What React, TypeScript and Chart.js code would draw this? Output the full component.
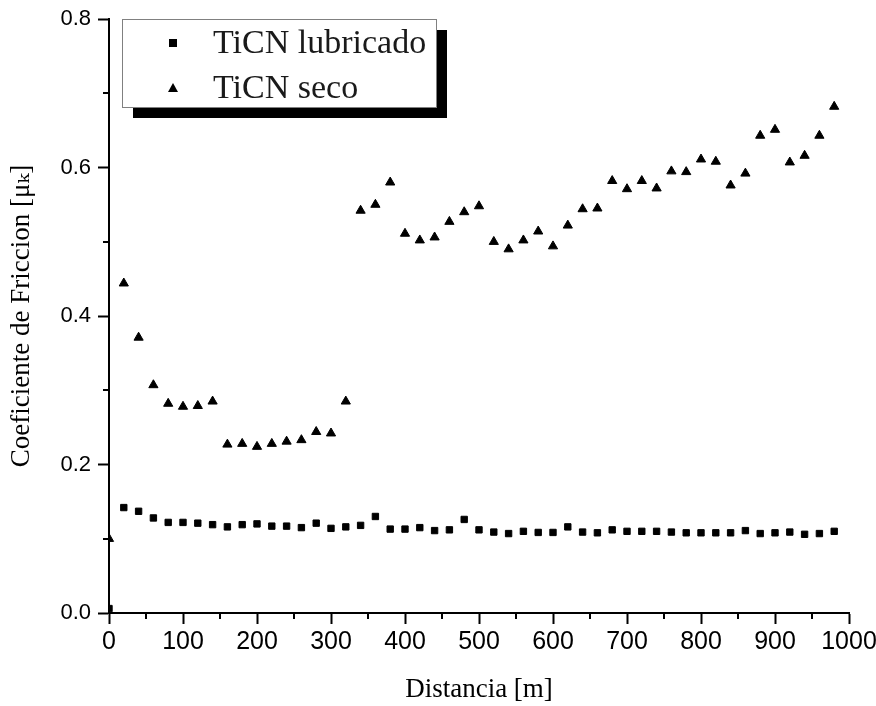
import React, { useEffect, useRef } from 'react';
import { Chart, registerables } from 'chart.js';

Chart.register(...registerables);

// ---- data ----
const distance = [
  0, 20, 40, 60, 80, 100, 120, 140, 160, 180,
  200, 220, 240, 260, 280, 300, 320, 340, 360, 380,
  400, 420, 440, 460, 480, 500, 520, 540, 560, 580,
  600, 620, 640, 660, 680, 700, 720, 740, 760, 780,
  800, 820, 840, 860, 880, 900, 920, 940, 960, 980,
];

const lubricado = [
  0.006, 0.142, 0.137, 0.128, 0.122, 0.122, 0.121, 0.119, 0.116, 0.119,
  0.120, 0.117, 0.117, 0.115, 0.121, 0.114, 0.116, 0.118, 0.130, 0.113,
  0.113, 0.115, 0.111, 0.112, 0.126, 0.112, 0.109, 0.107, 0.110, 0.1085,
  0.1085, 0.116, 0.109, 0.108, 0.112, 0.110, 0.110, 0.110, 0.109, 0.108,
  0.108, 0.108, 0.108, 0.111, 0.107, 0.108, 0.109, 0.106, 0.107, 0.110,
];

const seco = [
  0.100, 0.444, 0.371, 0.307, 0.282, 0.278, 0.279, 0.285, 0.227, 0.228,
  0.224, 0.228, 0.231, 0.233, 0.244, 0.242, 0.285, 0.542, 0.550, 0.580,
  0.511, 0.502, 0.506, 0.527, 0.540, 0.548, 0.500, 0.490, 0.502, 0.514,
  0.494, 0.522, 0.544, 0.545, 0.582, 0.571, 0.582, 0.572, 0.595, 0.594,
  0.611, 0.608, 0.576, 0.592, 0.643, 0.651, 0.607, 0.616, 0.643, 0.682,
];

const seriesLabels = ['TiCN lubricado', 'TiCN seco'];
const xTitle = 'Distancia [m]';
const yTitle = 'Coeficiente de Friccion [\u03bc\u2096]';
const xMinorTicks = [50, 150, 250, 350, 450, 550, 650, 750, 850, 950];
const yMinorTicks = [0.1, 0.3, 0.5, 0.7];

const SERIF = "'Liberation Serif', 'DejaVu Serif', serif";
const SANS = "'Liberation Sans', Arial, sans-serif";
const SANS_NARROW = "'Liberation Sans Narrow', 'Liberation Sans', Arial, sans-serif";

const minorTicksPlugin = {
  id: 'minorTicks',
  afterDraw(chart: any) {
    const { ctx, chartArea, scales } = chart;
    ctx.save();
    ctx.strokeStyle = '#000';
    ctx.lineWidth = 2;
    ctx.beginPath();
    xMinorTicks.forEach((v) => {
      const px = Math.round(scales.x.getPixelForValue(v));
      ctx.moveTo(px, chartArea.bottom);
      ctx.lineTo(px, chartArea.bottom + 6);
    });
    yMinorTicks.forEach((v) => {
      const py = Math.round(scales.y.getPixelForValue(v));
      ctx.moveTo(chartArea.left, py);
      ctx.lineTo(chartArea.left - 6, py);
    });
    ctx.stroke();
    ctx.restore();
  },
};

const boxLegendPlugin = {
  id: 'boxLegend',
  afterDraw(chart: any) {
    const { ctx, chartArea } = chart;
    const left = chartArea.left + 13;
    const top = chartArea.top;
    const w = 314;
    const h = 88;
    ctx.save();
    // shadow
    ctx.fillStyle = '#000';
    ctx.fillRect(left + 11, top + 11, w, h);
    // box
    ctx.fillStyle = '#fff';
    ctx.fillRect(left, top, w, h);
    ctx.strokeStyle = '#808080';
    ctx.lineWidth = 1;
    ctx.strokeRect(left + 0.5, top + 0.5, w, h);
    // entries
    const rows = [top + 24, top + 69];
    chart.data.datasets.forEach((ds: any, i: number) => {
      const cx = left + 51;
      const cy = rows[i];
      ctx.fillStyle = '#000';
      if (ds.pointStyle === 'rect') {
        ctx.fillRect(cx - 4, cy - 4, 8, 8);
      } else {
        ctx.beginPath();
        ctx.moveTo(cx, cy - 5);
        ctx.lineTo(cx + 5, cy + 4);
        ctx.lineTo(cx - 5, cy + 4);
        ctx.closePath();
        ctx.fill();
      }
      ctx.font = `34px ${SERIF}`;
      ctx.textBaseline = 'middle';
      ctx.textAlign = 'left';
      ctx.fillStyle = '#1a1a1a';
      ctx.fillText(ds.label, left + 91, cy + 1);
    });
    ctx.restore();
  },
};

export default function App() {
  const canvasRef = useRef<HTMLCanvasElement | null>(null);

  useEffect(() => {
    if (!canvasRef.current) return;
    const chart = new Chart(canvasRef.current, {
      type: 'scatter',
      data: {
        datasets: [
          {
            label: seriesLabels[0],
            data: distance.map((x, i) => ({ x, y: lubricado[i] })),
            pointStyle: 'rect',
            pointRadius: 4.5,
            backgroundColor: '#000',
            borderColor: '#000',
            borderWidth: 1,
          },
          {
            label: seriesLabels[1],
            data: distance.map((x, i) => ({ x, y: seco[i] })),
            pointStyle: 'triangle',
            pointRadius: 5.3,
            backgroundColor: '#000',
            borderColor: '#000',
            borderWidth: 1,
          },
        ],
      },
      options: {
        animation: false,
        responsive: true,
        maintainAspectRatio: false,
        layout: { padding: { left: 0, right: 27, top: 19, bottom: 0 } },
        plugins: {
          legend: { display: false },
          tooltip: { enabled: false },
        },
        scales: {
          x: {
            type: 'linear',
            min: 0,
            max: 1000,
            afterFit: (s: any) => {
              s.height = 93;
              s.paddingLeft = 0;
              s.paddingRight = 0;
            },
            ticks: {
              stepSize: 100,
              color: '#000',
              font: { family: SANS_NARROW, size: 25 },
              padding: 3,
              maxRotation: 0,
              callback: (v: any) => String(v),
            },
            grid: {
              drawOnChartArea: false,
              drawTicks: true,
              tickLength: 11,
              tickWidth: 2,
              tickColor: '#000',
            },
            border: { display: true, width: 2, color: '#000' },
            title: {
              display: true,
              text: xTitle,
              color: '#000',
              font: { family: SERIF, size: 27 },
              padding: { top: 0, bottom: 0 },
            },
          },
          y: {
            type: 'linear',
            min: 0,
            max: 0.8,
            afterFit: (s: any) => {
              s.width = 109;
              s.paddingTop = 0;
              s.paddingBottom = 0;
            },
            ticks: {
              stepSize: 0.2,
              color: '#000',
              font: { family: SANS, size: 22 },
              padding: 7,
              callback: (v: any) => Number(v).toFixed(1),
            },
            grid: {
              drawOnChartArea: false,
              drawTicks: true,
              tickLength: 11,
              tickWidth: 2,
              tickColor: '#000',
            },
            border: { display: true, width: 2, color: '#000' },
            title: {
              display: true,
              text: yTitle,
              color: '#000',
              font: { family: SERIF, size: 27 },
              padding: { top: 6, bottom: 0 },
            },
          },
        },
      },
      plugins: [minorTicksPlugin, boxLegendPlugin],
    });
    return () => chart.destroy();
  }, []);

  return (
    <div style={{ position: 'fixed', left: 0, top: 0, width: 876, height: 706, background: '#fff' }}>
      <canvas ref={canvasRef} />
    </div>
  );
}
